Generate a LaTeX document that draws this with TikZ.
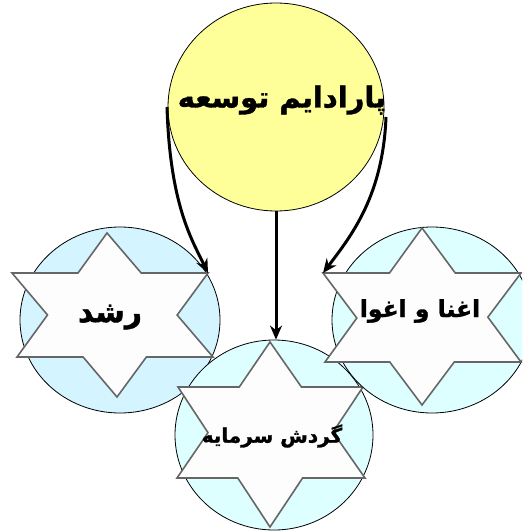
\documentclass[tikz,border=0pt]{standalone}
\usepackage{fontspec}
\usetikzlibrary{arrows.meta,shapes.geometric}
\TeXXeTstate=1
\newfontfamily\arabicfont[Script=Arabic,FakeBold=1.3]{DejaVu Sans Bold}
\definecolor{yel}{HTML}{FFFF99}
\definecolor{lblue}{HTML}{D4F4FF}
\definecolor{lcyan}{HTML}{DEFFFF}
\definecolor{starfill}{HTML}{FDFDFD}
\definecolor{staredge}{HTML}{666666}
\newcommand{\hexstar}[7]{%
  % #1 name, #2 top, #3 bottom, #4 ul, #5 ur, #6 ll, #7 lr
  \coordinate (#1-t) at (#2);
  \coordinate (#1-b) at (#3);
  \coordinate (#1-ul) at (#4);
  \coordinate (#1-ur) at (#5);
  \coordinate (#1-ll) at (#6);
  \coordinate (#1-lr) at (#7);
  \coordinate (#1-A) at (intersection of #1-t--#1-ll and #1-ul--#1-ur);
  \coordinate (#1-B) at (intersection of #1-ul--#1-b and #1-t--#1-ll);
  \coordinate (#1-C) at (intersection of #1-ll--#1-lr and #1-ul--#1-b);
  \coordinate (#1-D) at (intersection of #1-b--#1-ur and #1-ll--#1-lr);
  \coordinate (#1-E) at (intersection of #1-lr--#1-t and #1-b--#1-ur);
  \coordinate (#1-F) at (intersection of #1-ur--#1-ul and #1-lr--#1-t);
  \draw[starshape] (#1-t) -- (#1-A) -- (#1-ul) -- (#1-B) -- (#1-ll) -- (#1-C)
    -- (#1-b) -- (#1-D) -- (#1-lr) -- (#1-E) -- (#1-ur) -- (#1-F) -- cycle;
}
\tikzset{
  circ/.style={ellipse, draw=black, line width=0.8pt, inner sep=0pt},
  starshape/.style={fill=starfill, draw=staredge, line width=1.6pt, line join=miter},
  conn/.style={draw=black, line width=3pt, -{Stealth[length=14pt,width=12pt]}},
  lbl/.style={text=black, inner sep=0pt},
}
\begin{document}
\begin{tikzpicture}[x=1pt,y=-1pt]
\useasboundingbox (0,0) rectangle (522,532);
\clip (0,0) rectangle (522,532);
% top circle
\node[circ, fill=yel, minimum width=216pt, minimum height=208pt] (top) at (276,107) {};
% left group
\node[circ, fill=lblue, minimum width=200pt, minimum height=186pt] (lc) at (120,320) {};
\hexstar{ls}{107,233}{117,397}{12,273}{208,273}{17,357}{213,357}
\node[lbl, font=\arabicfont\fontsize{30}{34}\selectfont] (lt) at (110,317) {\beginR رشد\endR};
% bottom group
\node[circ, fill=lcyan, minimum width=198pt, minimum height=190pt] (bc) at (274,435) {};
\hexstar{bs}{270,342}{270,527}{178,387}{363,387}{177,478}{365,478}
\node[lbl, font=\arabicfont\fontsize{20}{24}\selectfont] (bt) at (272,436) {\beginR گردش سرمایه\endR};
% right group
\node[circ, fill=lcyan, minimum width=200pt, minimum height=186pt] (rc) at (432,320) {};
\hexstar{rs}{422,228}{422,405}{323,273}{521,273}{325,362}{521,362}
\node[lbl, font=\arabicfont\fontsize{23.5}{28}\selectfont] (rt) at (420,311) {\beginR اغنا و اغوا\endR};
% title
\node[lbl, font=\arabicfont\fontsize{29}{33}\selectfont] (tt) at (282,100) {\beginR پارادایم توسعه\endR};
% connectors
\coordinate (lstart) at (167,107);
\coordinate (rstart) at (386,117);
\draw[conn] (lstart) .. controls (170,205) and (192,240) .. (ls-ur);
\draw[conn] (top.south) -- (top.south |- bc.north);
\draw[conn] (rstart) .. controls (383,195) and (352,235) .. (rs-ul);
\end{tikzpicture}
\end{document}
